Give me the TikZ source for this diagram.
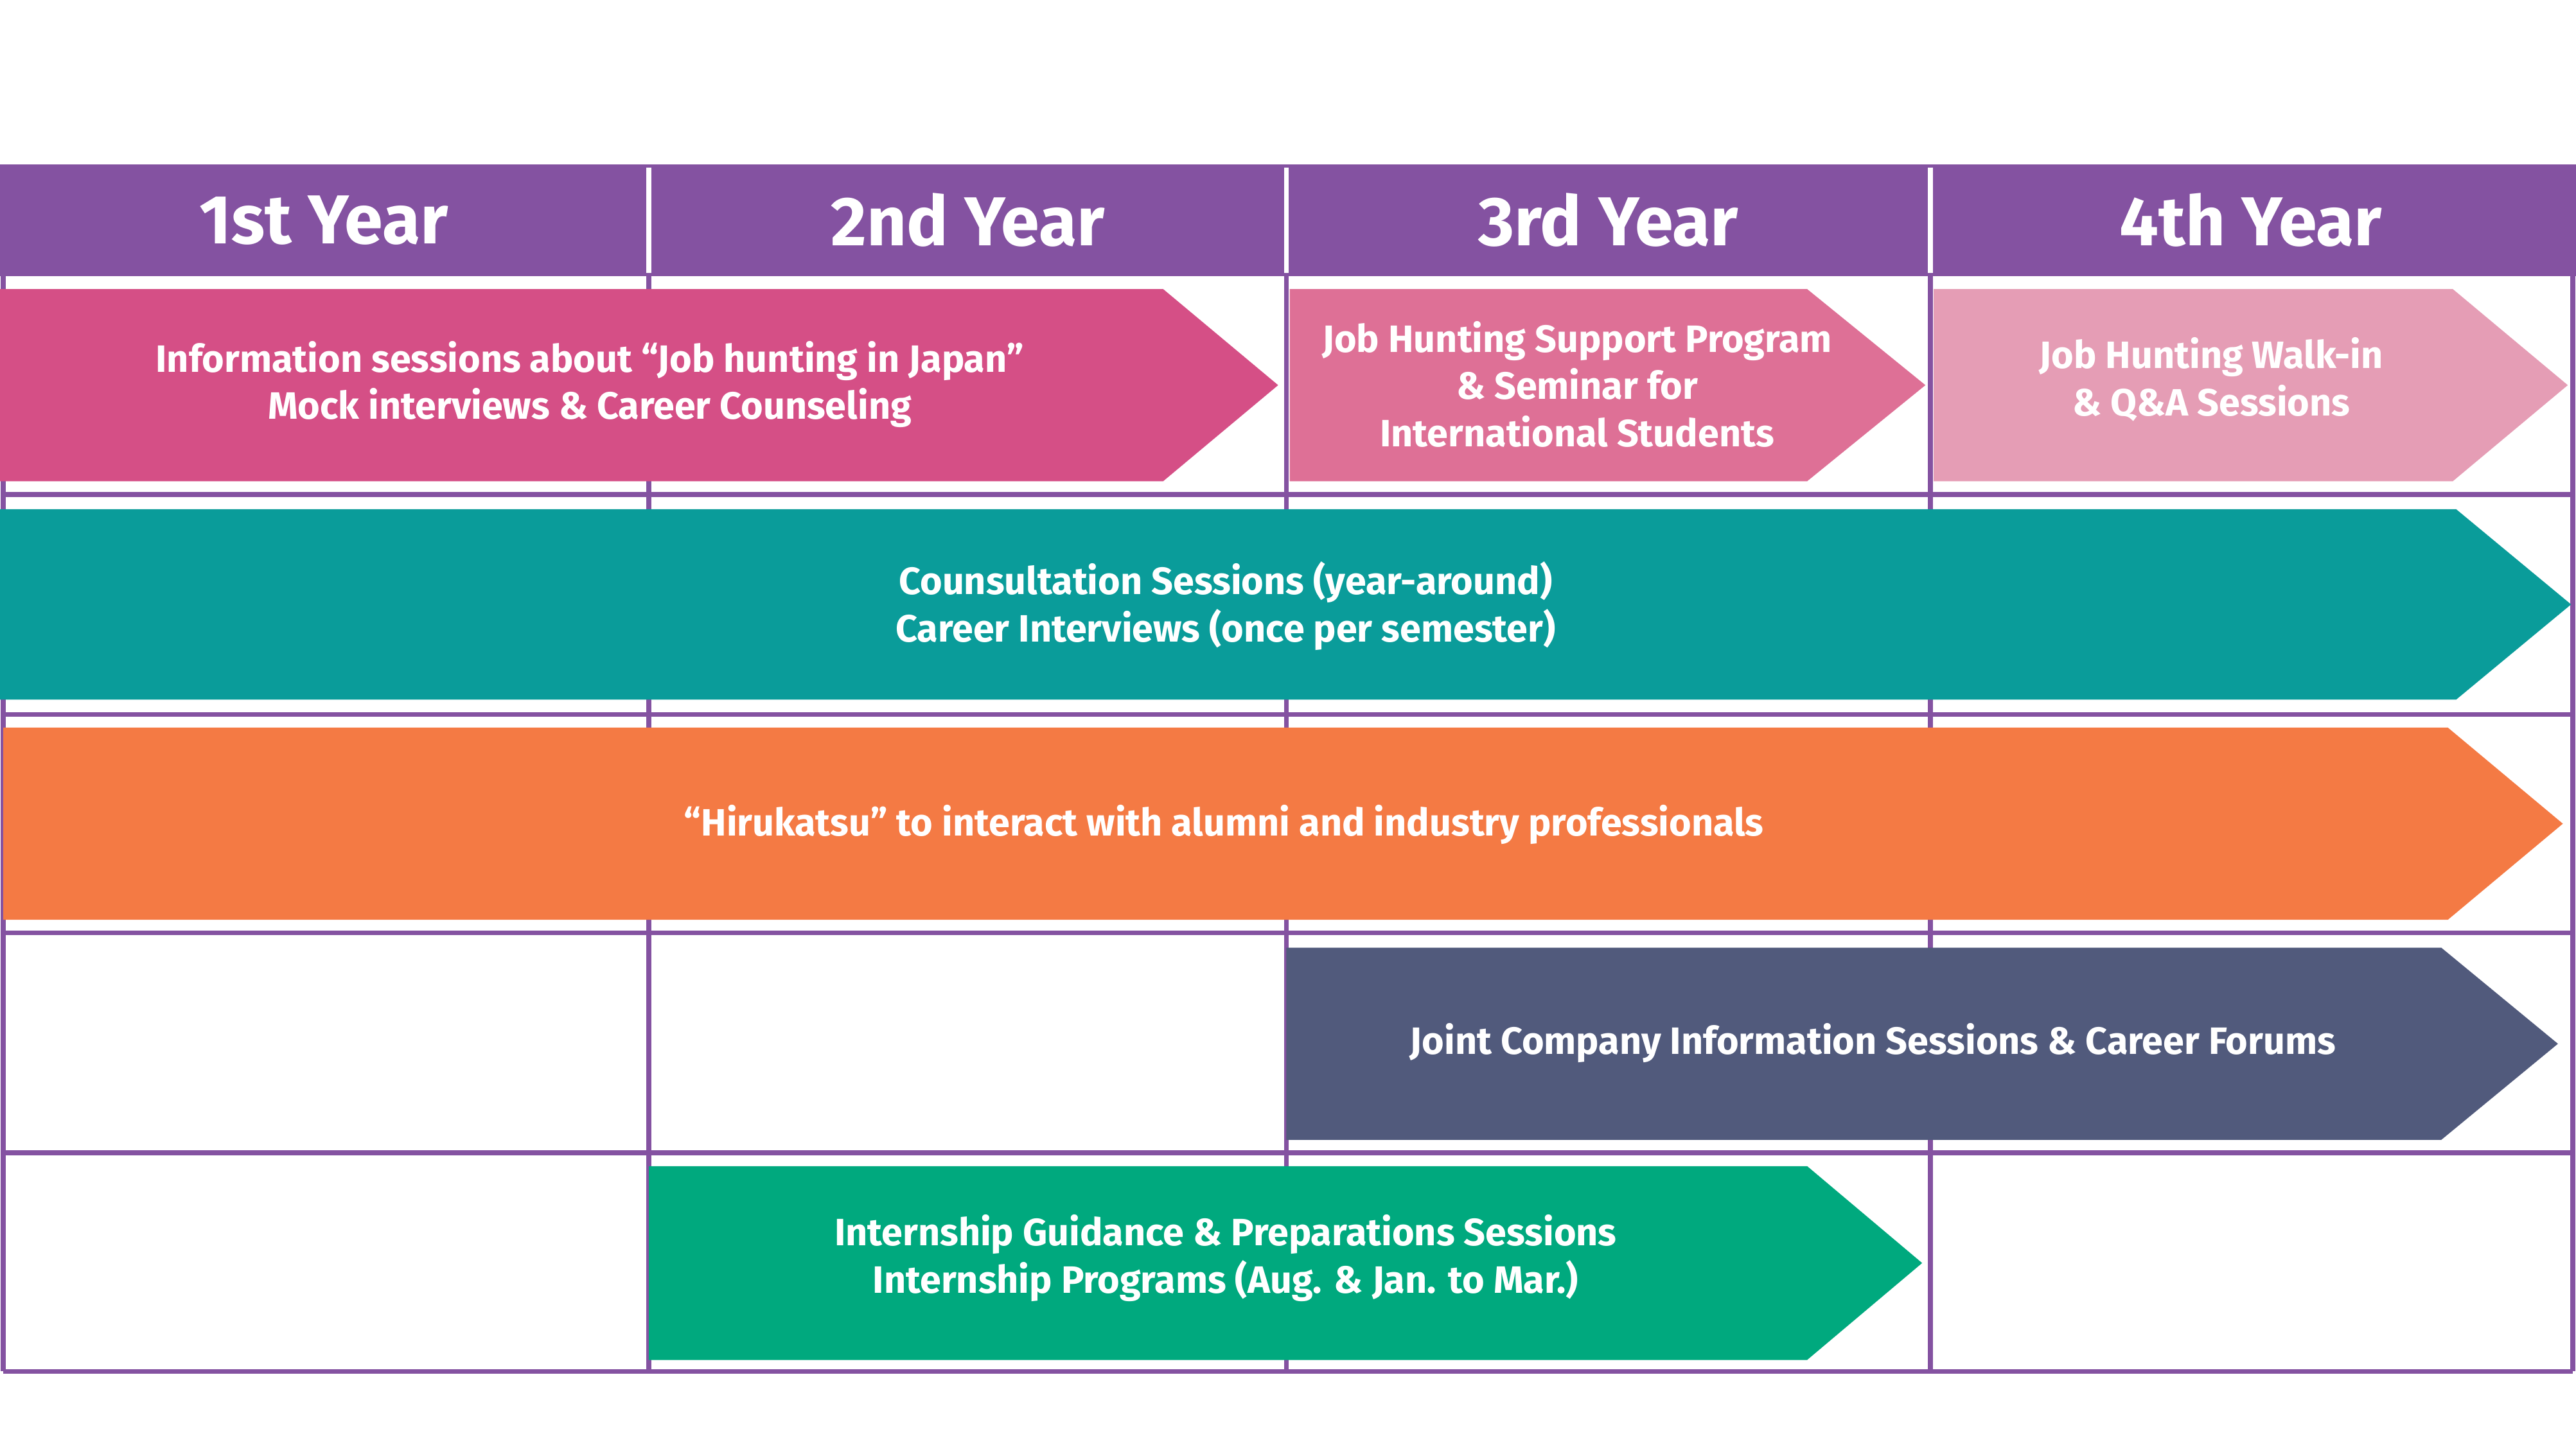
\documentclass[tikz,border=0pt]{standalone}
\usepackage{fontspec}
\setmainfont{Fira Sans}
\definecolor{hdr}{HTML}{8452A1}
\definecolor{cA}{HTML}{D54F86}
\definecolor{cB}{HTML}{DE7096}
\definecolor{cC}{HTML}{E59DB5}
\definecolor{cD}{HTML}{0A9C9A}
\definecolor{cE}{HTML}{F47A44}
\definecolor{cF}{HTML}{515A7C}
\definecolor{cG}{HTML}{00A97E}
\tikzset{
  grid/.style={draw=hdr,line width=0.3mm},
  hd/.style={text=white,font=\fontsize{12}{14}\selectfont\bfseries},
  lbl/.style={text=white,align=center,font=\fontsize{6.6}{8.2}\selectfont\bfseries}
}
\newcommand{\arr}[6]{\fill[#6] (#1,#4) -- (#2,#4) -- (#3,{(#4+#5)/2}) -- (#2,#5) -- (#1,#5) -- cycle;}
\begin{document}
\begin{tikzpicture}[x=0.1mm,y=-0.1mm]
\useasboundingbox (0,0) rectangle (1568,885);
% grid
\foreach \y in {301,435,568,702,835} \draw[grid] (2,\y) -- (1566,\y);
\foreach \x in {2,395,783,1175,1566} \draw[grid] (\x,168) -- (\x,835);
% header
\fill[hdr] (0,100) rectangle (1568,168);
\foreach \x in {395,783,1175} \draw[white,line width=0.3mm] (\x,102) -- (\x,166);
\node[hd] (y1) at (197,134) {1st Year};
\node[hd] (y2) at (589,134) {2nd Year};
\node[hd] (y3) at (979,134) {3rd Year};
\node[hd] (y4) at (1370,134) {4th Year};
% arrows
\arr{0}{708}{778}{176}{293}{cA}
\arr{785}{1100}{1172}{176}{293}{cB}
\arr{1177}{1493}{1563}{176}{293}{cC}
\arr{0}{1495}{1565}{310}{426}{cD}
\arr{2}{1490}{1560}{443}{560}{cE}
\arr{783}{1486}{1557}{577}{694}{cF}
\arr{395}{1100}{1170}{710}{828}{cG}
\node[lbl] (a1) at (359,234) {Information sessions about “Job hunting in Japan”\\Mock interviews \& Career Counseling};
\node[lbl] (a2) at (960,234) {Job Hunting Support Program\\\& Seminar for\\International Students};
\node[lbl] (a3) at (1346,231) {Job Hunting Walk-in\\\& Q\&A Sessions};
\node[lbl] (a4) at (746,369) {Counsultation Sessions (year-around)\\Career Interviews (once per semester)};
\node[lbl] (a5) at (745,502) {“Hirukatsu” to interact with alumni and industry professionals};
\node[lbl] (a6) at (1140,635) {Joint Company Information Sessions \& Career Forums};
\node[lbl] (a7) at (746,766) {Internship Guidance \& Preparations Sessions\\Internship Programs (Aug. \& Jan. to Mar.)};
\end{tikzpicture}
\end{document}
